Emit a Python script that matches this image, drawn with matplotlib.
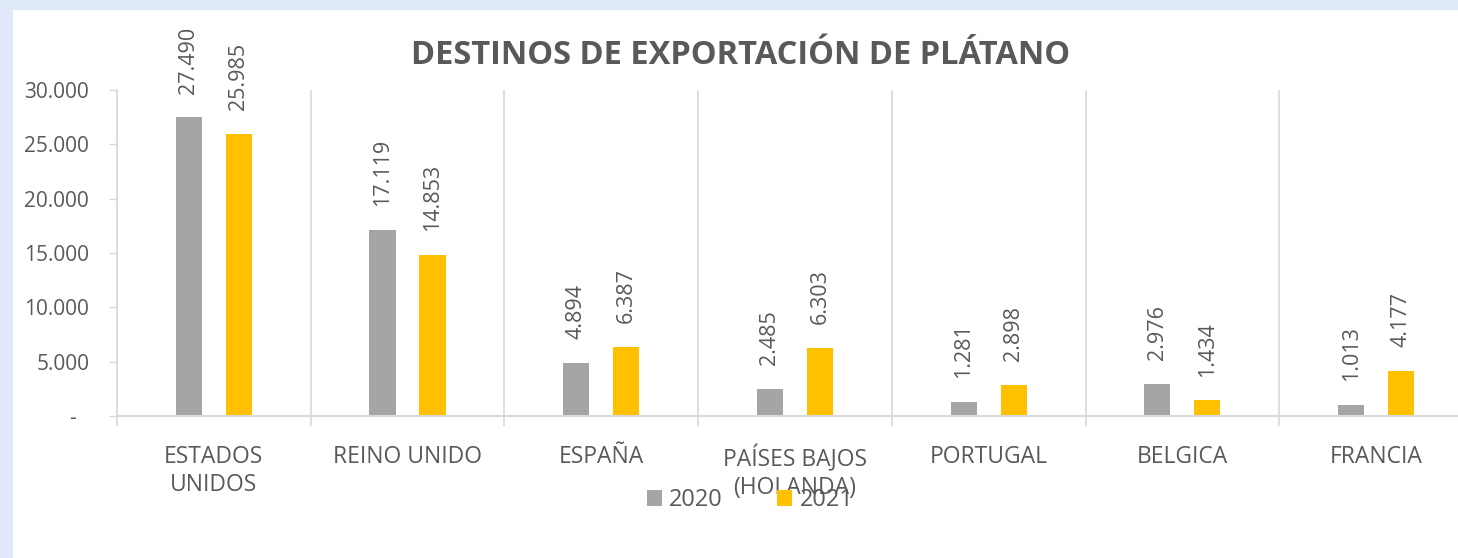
import numpy as np
import matplotlib.pyplot as plt
from matplotlib.patches import Patch, Rectangle
from matplotlib.transforms import ScaledTranslation

plt.rcParams["font.family"] = ["Open Sans", "DejaVu Sans"]

# Data
categories = ["ESTADOS\nUNIDOS", "REINO UNIDO", "ESPAÑA", "PAÍSES BAJOS\n(HOLANDA)",
              "PORTUGAL", "BELGICA", "FRANCIA"]
years = ["2020", "2021"]
values_2020 = [27490, 17119, 4894, 2485, 1281, 2976, 1013]
values_2021 = [25985, 14853, 6387, 6303, 2898, 1434, 4177]
yticks = [0, 5000, 10000, 15000, 20000, 25000, 30000]

text_col = "#595959"
grid_col = "#d9d9d9"
colors = ["#a5a5a5", "#ffc000"]

def fmt(v):
    return "-" if v == 0 else f"{v:,}".replace(",", ".")

fig = plt.figure(figsize=(14.58, 5.58), dpi=100, facecolor="#dfe9f9")
# white chart area inside the light blue frame
fig.patches.append(Rectangle((13 / 1458, 0), 1, (558 - 10) / 558, transform=fig.transFigure,
                             facecolor="white", edgecolor="none", zorder=-5))

ax = fig.add_axes([117 / 1458, 1 - 416 / 558, 1 - 117 / 1458, (416 - 90) / 558])
ax.set_facecolor("none")
ax.set_zorder(2)

x = np.arange(len(categories))
off = 0.129
w = 0.135
for vals, dx, c in [(values_2020, -off, colors[0]), (values_2021, off, colors[1])]:
    bars = ax.bar(x + dx, vals, width=w, color=c, zorder=2)
    for b, v in zip(bars, vals):
        ax.annotate(fmt(v), (b.get_x() + b.get_width() / 2, v), xytext=(0, 17),
                    textcoords="offset points", rotation=90, ha="center", va="bottom",
                    fontsize=15.5, color=text_col)

ax.set_yticks(yticks)
ax.set_yticklabels([fmt(v) for v in yticks])
ax.tick_params(axis="y", length=6, width=1, color=grid_col, labelsize=15,
               labelcolor=text_col, pad=14)
# accounting-style dash sits a bit further left
zero_lbl = ax.get_yticklabels()[0]
zero_lbl.set_transform(zero_lbl.get_transform() + ScaledTranslation(-0.13, 0, fig.dpi_scale_trans))

ax.set_xticks(x)
ax.set_xticklabels(categories)
ax.tick_params(axis="x", which="major", length=0, labelsize=16.5, labelcolor=text_col, pad=21)
ax.set_xticks(np.arange(-0.5, 7.0, 1.0), minor=True)
ax.tick_params(axis="x", which="minor", length=7, width=1.2, color=grid_col)
for lbl in ax.get_xticklabels():
    lbl.set_linespacing(1.2)
ax.grid(True, axis="x", which="minor", color=grid_col, linewidth=1.2, zorder=0)
ax.grid(False, axis="x", which="major")

ax.set_xlim(-0.5, 6.423)
ax.set_ylim(0, 30000)

for s in ["top", "right"]:
    ax.spines[s].set_visible(False)
ax.spines["left"].set_color(grid_col)
ax.spines["left"].set_linewidth(1.2)
ax.spines["bottom"].set_color(grid_col)
ax.spines["bottom"].set_linewidth(1.5)

fig.text(741 / 1458, 1 - 55 / 558, "DESTINOS DE EXPORTACIÓN DE PLÁTANO", ha="center",
         va="center", fontsize=23.5, fontweight="bold", color=text_col)

handles = [Patch(facecolor=c, edgecolor="none") for c in colors]
fig.legend(handles, years, loc="center", bbox_to_anchor=(750 / 1458, 1 - 500 / 558),
           ncol=2, frameon=False, fontsize=17, labelcolor=text_col, handlelength=0.65,
           handleheight=0.65, handletextpad=0.3, columnspacing=2.3)

fig.savefig("out.png", dpi=100, facecolor=fig.get_facecolor())
